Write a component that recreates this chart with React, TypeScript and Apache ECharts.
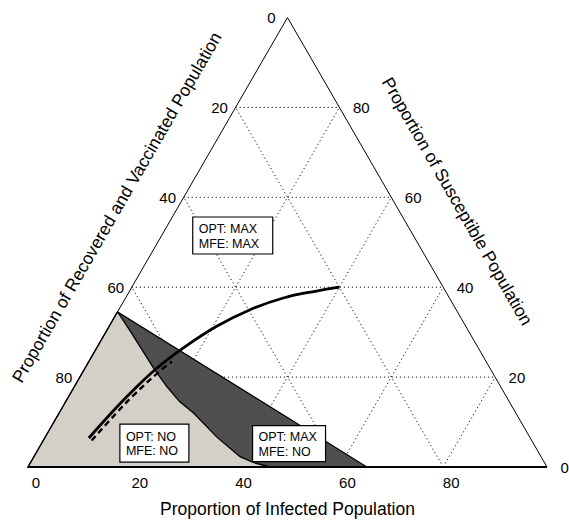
import React, { useEffect, useRef } from "react";
import * as echarts from "echarts";

// Ternary coordinates: [Infected %, Susceptible %]; Recovered & Vaccinated = 100 - I - S
const gridValues = [20, 40, 60, 80];
const bottomTicks = [0, 20, 40, 60, 80]; // Infected
const leftTicks = [0, 20, 40, 60, 80]; // Recovered and Vaccinated
const rightTicks = [0, 20, 40, 60, 80]; // Susceptible

const bottomTitle = "Proportion of Infected Population";
const leftTitle = "Proportion of Recovered and Vaccinated Population";
const rightTitle = "Proportion of Susceptible Population";

const darkRegion = [
  [0, 0],
  [0, 34.5],
  [65.3, 0],
];
const lightRegion = [
  [0, 0],
  [0, 34.5],
  [4.3, 30.5],
  [13.2, 22.0],
  [17.8, 17.9],
  [22.0, 14.5],
  [25.9, 12.0],
  [33.0, 6.7],
  [39.7, 2.3],
  [42.9, 1.0],
  [46.6, 0],
];
const solidCurve = [
  [8.5, 6.45],
  [10.2, 12.5],
  [11.5, 16.4],
  [13.8, 21.9],
  [16.7, 26.5],
  [20.7, 31.3],
  [25.3, 35.0],
  [30.4, 37.6],
  [36.0, 39.15],
  [40, 40],
];
const dashedCurve = [
  [9.3, 5.9],
  [11.0, 11.9],
  [12.3, 15.8],
  [14.7, 21.3],
  [16.0, 23.45],
];
const regionLabels = ["OPT: MAX\nMFE: MAX", "OPT: NO\nMFE: NO", "OPT: MAX\nMFE: NO"];
const regionLabelAnchors = [
  [13.7, 51.5],
  [21.7, 5.3],
  [47.7, 5.2],
];
const regionLabelSizes = [
  [80, 37],
  [69, 38],
  [73, 36],
];

const SQ = Math.sqrt(3) / 2;
const toXY = (p: number[]) => [p[0] + p[1] / 2, p[1] * SQ];
const FONT = '"Liberation Sans", Arial, Helvetica, sans-serif';

export default function App() {
  const ref = useRef<HTMLDivElement>(null);
  useEffect(() => {
    if (!ref.current) return;
    const chart = echarts.init(ref.current, undefined, { renderer: "svg" });

    const gridSegs: number[][] = [];
    gridValues.forEach((v) => {
      gridSegs.push([...toXY([0, v]), ...toXY([100 - v, v])]); // constant S
      gridSegs.push([...toXY([v, 0]), ...toXY([v, 100 - v])]); // constant I
      gridSegs.push([...toXY([100 - v, 0]), ...toXY([0, 100 - v])]); // constant R
    });
    const edgeSegs = [
      [...toXY([0, 0]), ...toXY([0, 100]), 1],
      [...toXY([100, 0]), ...toXY([0, 100]), 1],
      [...toXY([0, 0]), ...toXY([100, 0]), 2],
    ];

    type Lbl = { p: number[]; text: string; dx: number; dy: number; align: string; size: number; rot?: number };
    const tickLabels: Lbl[] = [];
    bottomTicks.forEach((v) =>
      tickLabels.push({ p: toXY([v, 0]), text: String(v), dx: 8, dy: 15, align: "center", size: 15 })
    );
    leftTicks.forEach((v) =>
      tickLabels.push({ p: toXY([0, 100 - v]), text: String(v), dx: -16, dy: 0, align: "center", size: 15 })
    );
    rightTicks.forEach((v) =>
      tickLabels.push({ p: toXY([100 - v, v]), text: String(v), dx: 13.5, dy: 0, align: "left", size: 15 })
    );
    tickLabels.push({ p: toXY([50, 0]), text: bottomTitle, dx: 0, dy: 42, align: "center", size: 17.5 });
    tickLabels.push({ p: toXY([0, 50]), text: leftTitle, dx: -41, dy: -35, align: "center", size: 17.5, rot: Math.PI / 3 });
    tickLabels.push({ p: toXY([50, 50]), text: rightTitle, dx: 40, dy: -41, align: "center", size: 17.5, rot: -Math.PI / 3 });

    const polySeries = (pts: number[][], fill: string, z: number) => ({
      type: "custom",
      coordinateSystem: "cartesian2d",
      z,
      silent: true,
      data: [[0, 0]],
      renderItem: (_p: any, api: any) => ({
        type: "polygon",
        shape: { points: pts.map((q) => api.coord(toXY(q))) },
        style: { fill, stroke: "#000", lineWidth: 1.3 },
      }),
    });

    chart.setOption({
      animation: false,
      grid: { left: 28, top: 17.5, width: 519, height: 449.5, containLabel: false },
      xAxis: { type: "value", min: 0, max: 100, show: false },
      yAxis: { type: "value", min: 0, max: 100 * SQ, show: false },
      series: [
        {
          type: "custom",
          coordinateSystem: "cartesian2d",
          z: 1,
          silent: true,
          data: gridSegs,
          renderItem: (_p: any, api: any) => {
            const a = api.coord([api.value(0), api.value(1)]);
            const b = api.coord([api.value(2), api.value(3)]);
            return {
              type: "line",
              shape: { x1: a[0], y1: a[1], x2: b[0], y2: b[1] },
              style: { stroke: "#111", lineWidth: 1, lineDash: [1.2, 2.8] },
            };
          },
        },
        polySeries(darkRegion, "#4f4f4f", 2),
        polySeries(lightRegion, "#d4d0c8", 3),
        {
          type: "custom",
          coordinateSystem: "cartesian2d",
          z: 4,
          silent: true,
          data: edgeSegs,
          renderItem: (_p: any, api: any) => {
            const a = api.coord([api.value(0), api.value(1)]);
            const b = api.coord([api.value(2), api.value(3)]);
            return {
              type: "line",
              shape: { x1: a[0], y1: a[1], x2: b[0], y2: b[1] },
              style: { stroke: "#000", lineWidth: api.value(4) },
            };
          },
        },
        {
          type: "line",
          z: 5,
          silent: true,
          data: solidCurve.map(toXY),
          smooth: 0.4,
          showSymbol: false,
          symbol: "none",
          lineStyle: { color: "#000", width: 2.8 },
        },
        {
          type: "line",
          z: 6,
          silent: true,
          data: dashedCurve.map(toXY),
          smooth: 0.4,
          showSymbol: false,
          symbol: "none",
          lineStyle: { color: "#000", width: 2.4, type: [6, 4] },
        },
        {
          type: "custom",
          coordinateSystem: "cartesian2d",
          z: 7,
          silent: true,
          data: regionLabelAnchors.map(toXY),
          renderItem: (params: any, api: any) => {
            const i = params.dataIndex;
            const c = api.coord([api.value(0), api.value(1)]);
            const [w, h] = regionLabelSizes[i];
            return {
              type: "group",
              x: c[0],
              y: c[1],
              children: [
                {
                  type: "rect",
                  shape: { x: -w / 2, y: -h / 2, width: w, height: h },
                  style: { fill: "#fff", stroke: "#000", lineWidth: 1.2 },
                },
                {
                  type: "text",
                  style: {
                    text: regionLabels[i],
                    x: -w / 2 + 6,
                    y: 1,
                    align: "left",
                    verticalAlign: "middle",
                    fontSize: 12.5,
                    lineHeight: 14.5,
                    fontFamily: FONT,
                    fill: "#000",
                  },
                },
              ],
            };
          },
        },
        {
          type: "custom",
          coordinateSystem: "cartesian2d",
          z: 8,
          silent: true,
          data: tickLabels.map((l) => l.p),
          renderItem: (params: any, api: any) => {
            const l = tickLabels[params.dataIndex];
            const c = api.coord([api.value(0), api.value(1)]);
            return {
              type: "text",
              x: c[0] + l.dx,
              y: c[1] + l.dy,
              rotation: l.rot || 0,
              style: {
                text: l.text,
                x: 0,
                y: 0,
                align: l.align,
                verticalAlign: "middle",
                fontSize: l.size,
                fontFamily: FONT,
                fill: "#000",
              },
            };
          },
        },
      ],
    });
    return () => chart.dispose();
  }, []);
  return (
    <div
      ref={ref}
      style={{ position: "absolute", left: 0, top: 0, width: 569, height: 521, background: "#fff" }}
    />
  );
}
